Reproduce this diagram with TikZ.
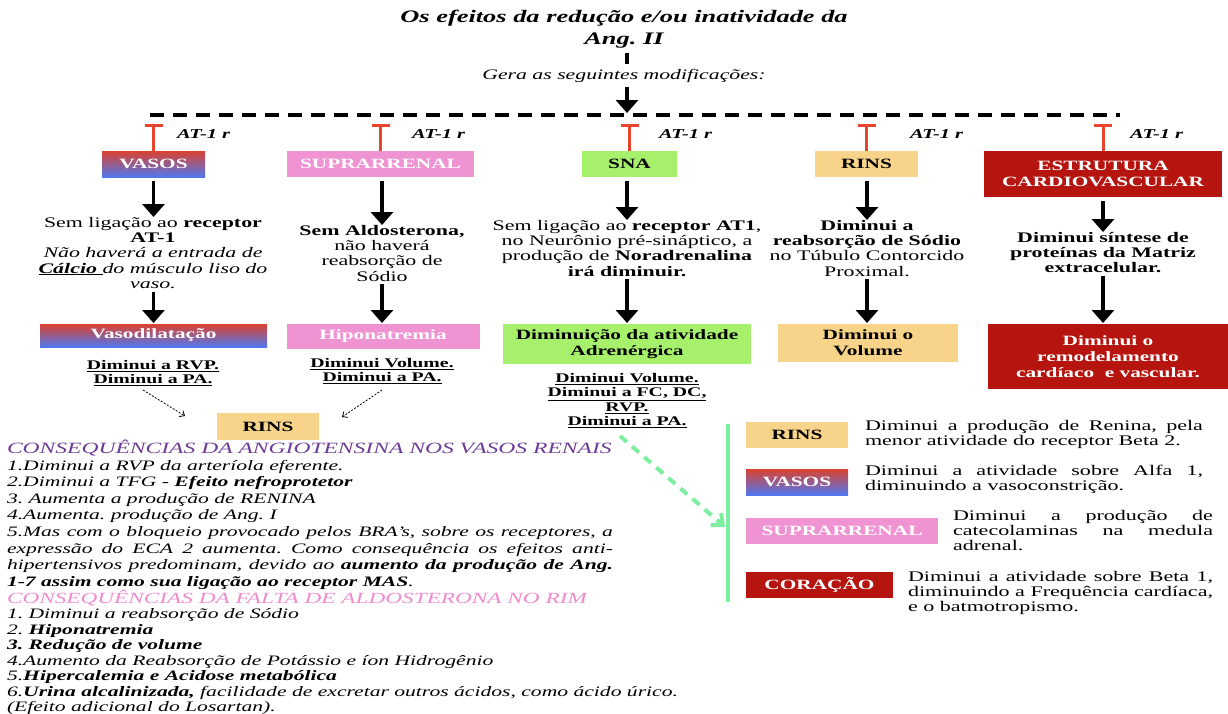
\documentclass[tikz,border=0pt]{standalone}
\usepackage{fontspec}
\setmainfont{Liberation Serif}[FakeStretch=1.5]
\usetikzlibrary{arrows.meta}
\frenchspacing

\definecolor{inhred}{HTML}{E8452C}
\definecolor{kidney}{HTML}{F8D38A}
\definecolor{adrenal}{HTML}{F093D3}
\definecolor{nerve}{HTML}{A6F06C}
\definecolor{heart}{HTML}{B6140F}
\definecolor{vtop}{HTML}{DA4230}
\definecolor{vbot}{HTML}{5078EE}
\definecolor{angio}{HTML}{6E3C96}
\definecolor{aldo}{HTML}{EE8CCF}
\definecolor{mint}{HTML}{7EEEA0}

\newcommand{\fs}[2]{\fontsize{#1}{#2}\selectfont}

\begin{document}
\begin{tikzpicture}[x=1pt, y=-1pt,
  every node/.style={inner sep=0pt, outer sep=0pt},
  organ/.style={align=center, font=\bfseries\fs{14.2}{16}},
  kidneybox/.style={organ, fill=kidney},
  adrenalbox/.style={organ, fill=adrenal, text=white},
  nervebox/.style={organ, fill=nerve},
  heartbox/.style={organ, fill=heart, text=white},
  vesselbox/.style={organ, top color=vtop, bottom color=vbot, text=white},
  fxtext/.style={align=center, anchor=north, font=\fs{14.6}{15.3}},
  outcome/.style={align=center, anchor=north, font=\bfseries\fs{13.2}{14.6}},
  atlbl/.style={anchor=west, font=\bfseries\itshape\fs{13.6}{16}},
  bigarrow/.style={line width=3.5pt, -{Triangle[width=22pt,length=13pt]}},
  inhib/.style={draw=inhred, line width=3pt, -{Bar[width=18pt]}},
  dashbar/.style={line width=4pt, dash pattern=on 14pt off 9pt},
  hint/.style={line width=0.8pt, dash pattern=on 2pt off 1.5pt, -{Straight Barb[length=4pt,width=7pt]}},
  greenlink/.style={draw=mint, line width=4pt, dash pattern=on 9pt off 7pt, -{Straight Barb[length=9pt,width=16pt]}},
  legtext/.style={anchor=north west, align=justify, font=\fs{14.7}{15.2}},
]
\path[use as bounding box, fill=white] (0,0) rectangle (1228,713);

% ---- heading ----
\coordinate (hub) at (627,113);
\coordinate (tbar) at (0,124);
\node[align=center, font=\bfseries\itshape\fs{17.6}{22}] (title) at (624,29)
  {Os efeitos da redução e/ou inatividade da\\Ang. II};
\node[font=\itshape\fs{14.5}{16}] (gera) at (624,76) {Gera as seguintes modificações:};
\draw[line width=4pt, shorten <=5pt, shorten >=5pt] (title.south -| hub) -- (gera.north -| hub);
\draw[bigarrow, shorten <=4pt] (gera.south -| hub) -- (hub);

\coordinate (dl) at (150,115);
\coordinate (dr) at (1120,115);
\draw[dashbar] (dl) -- (dr);

% ---- target organs ----
\node[vesselbox, minimum width=103pt, minimum height=26pt] (vasos) at (153.5,164) {VASOS};
\node[adrenalbox, minimum width=187pt, minimum height=26pt] (supra) at (380.5,164) {SUPRARRENAL};
\node[nervebox, minimum width=95pt, minimum height=26pt] (sna) at (629.5,164) {SNA};
\node[kidneybox, minimum width=103pt, minimum height=26pt] (rins) at (866.5,164) {RINS};
\node[heartbox, minimum width=238pt, minimum height=46pt] (estr) at (1103,174) {ESTRUTURA\\CARDIOVASCULAR};

\foreach \b in {vasos,supra,sna,rins,estr}
  \draw[inhib] (\b.north) -- (\b.north |- tbar);

\node[atlbl] (at1) at (177,134) {AT-1 r};
\node[atlbl] (at2) at (412,134) {AT-1 r};
\node[atlbl] (at3) at (659,134) {AT-1 r};
\node[atlbl] (at4) at (910,134) {AT-1 r};
\node[atlbl] (at5) at (1130,134) {AT-1 r};

% ---- first effects ----
\node[fxtext] (vtx) at (153,217) {Sem ligação ao \textbf{receptor}\\\textbf{AT-1}\\
  \textit{Não haverá a entrada de}\\\textit{\underline{\textbf{Cálcio }}do músculo liso do}\\\textit{vaso.}};
\node[fxtext] (stx) at (382,225) {\textbf{Sem Aldosterona,}\\não haverá\\reabsorção de\\Sódio};
\node[fxtext] (ntx) at (627,220) {Sem ligação ao \textbf{receptor AT1},\\no Neurônio pré-sináptico, a\\
  produção de \textbf{Noradrenalina}\\\textbf{irá diminuir.}};
\node[fxtext] (rtx) at (867,220) {\textbf{Diminui a}\\\textbf{reabsorção de Sódio}\\no Túbulo Contorcido\\Proximal.};
\node[fxtext] (etx) at (1103,232) {\textbf{Diminui síntese de}\\\textbf{proteínas da Matriz}\\\textbf{extracelular.}};

\draw[bigarrow, shorten <=4pt] (vasos.south) -- (vasos.south |- vtx.north);
\draw[bigarrow, shorten <=4pt] (supra.south -| stx.north) -- (stx.north);
\draw[bigarrow, shorten <=4pt] (sna.south -| ntx.north) -- (ntx.north);
\draw[bigarrow, shorten <=4pt] (rins.south -| rtx.north) -- (rtx.north);
\draw[bigarrow, shorten <=4pt] (estr.south) -- (etx.north);

% ---- second effects ----
\node[vesselbox, minimum width=227pt, minimum height=23pt] (vdil) at (153.5,335.5) {Vasodilatação};
\node[adrenalbox, minimum width=193pt, minimum height=25pt] (hipo) at (383,336.5) {Hiponatremia};
\node[nervebox, minimum width=248pt, minimum height=40pt] (adr) at (627,344) {Diminuição da atividade\\Adrenérgica};
\node[kidneybox, minimum width=180pt, minimum height=38pt] (vol) at (868,343) {Diminui o\\Volume};
\node[heartbox, minimum width=240pt, minimum height=65pt] (remo) at (1108,356.5) {Diminui o\\remodelamento\\cardíaco\ \ e vascular.};

\draw[bigarrow, shorten <=3pt, shorten >=1pt] (vtx.south -| vasos.south) -- (vdil.north -| vasos.south);
\draw[bigarrow, shorten <=3pt, shorten >=1pt] (stx.south) -- (hipo.north -| stx.south);
\draw[bigarrow, shorten <=3pt, shorten >=1pt] (ntx.south) -- (adr.north);
\draw[bigarrow, shorten <=3pt, shorten >=1pt] (rtx.south) -- (vol.north -| rtx.south);
\draw[bigarrow, shorten <=3pt, shorten >=1pt] (etx.south) -- (remo.north -| etx.south);

\node[outcome] (vout) at (153,360) {\underline{Diminui a RVP.}\\\underline{Diminui a PA.}};
\node[outcome] (sout) at (382,358) {\underline{Diminui Volume.}\\\underline{Diminui a PA.}};
\node[outcome] (nout) at (627,373) {\underline{Diminui Volume.}\\\underline{Diminui a FC, DC,}\\\underline{RVP.}\\\underline{Diminui a PA.}};

\node[kidneybox, minimum width=102pt, minimum height=27pt] (rins2) at (268,426.5) {RINS};
\coordinate (h1s) at (143,390);
\coordinate (h1e) at (185,416);
\coordinate (h2s) at (382,390);
\coordinate (h2e) at (342,417);
\draw[hint] (h1s) -- (h1e);
\draw[hint] (h2s) -- (h2e);

% ---- renal consequences ----
\node[anchor=north west, text width=606pt, align=justify, font=\itshape\fs{14.4}{16.6}] (angio) at (7,440) {%
  {\color{angio}\fs{15.7}{16.6}CONSEQUÊNCIAS DA ANGIOTENSINA NOS VASOS RENAIS}\\
  1.Diminui a RVP da arteríola eferente.\\
  2.Diminui a TFG - \textbf{Efeito nefroprotetor}\\
  3. Aumenta a produção de RENINA\\
  4.Aumenta. produção de Ang. I\\
  5.Mas com o bloqueio provocado pelos BRA’s, sobre os receptores, a\linebreak
  expressão do ECA 2 aumenta. Como consequência os efeitos anti-\linebreak
  hipertensivos predominam, devido ao \textbf{aumento da produção de Ang.}\linebreak
  \textbf{1-7 assim como sua ligação ao receptor MAS}.};

\node[anchor=north west, align=left, font=\itshape\fs{14.4}{15.5}] (aldo) at (7,590) {%
  {\color{aldo}\fs{15.5}{15.5}CONSEQUÊNCIAS DA FALTA DE ALDOSTERONA NO RIM}\\
  1. Diminui a reabsorção de Sódio\\
  2. \textbf{Hiponatremia}\\
  \textbf{3. Redução de volume}\\
  4.Aumento da Reabsorção de Potássio e íon Hidrogênio\\
  5.\textbf{Hipercalemia e Acidose metabólica}\\
  6.\textbf{Urina alcalinizada,} facilidade de excretar outros ácidos, como ácido úrico.\\
  (Efeito adicional do Losartan).};

% ---- sympathetic targets ----
\coordinate (gl1) at (728,424);
\coordinate (gl2) at (728,602);
\draw[mint, line width=4pt] (gl1) -- (gl2);
\coordinate (ga1) at (620,436);
\coordinate (ga2) at (725,527);
\draw[greenlink] (ga1) -- (ga2);

\node[kidneybox, minimum width=102pt, minimum height=26pt] (lrins) at (797,435) {RINS};
\node[vesselbox, minimum width=102pt, minimum height=26pt] (lvas) at (797,482) {VASOS};
\node[adrenalbox, minimum width=192pt, minimum height=26pt] (lsup) at (842,531) {SUPRARRENAL};
\node[heartbox, minimum width=147pt, minimum height=26pt] (lcor) at (819.5,585) {CORAÇÃO};

\node[legtext, text width=338pt] (lrt) at (865,420) {Diminui a produção de Renina, pela\linebreak menor atividade do receptor Beta 2.};
\node[legtext, text width=338pt] (lvt) at (865,465) {Diminui a atividade sobre Alfa 1,\linebreak diminuindo a vasoconstrição.};
\node[legtext, text width=260pt] (lst) at (953,510) {Diminui a produção de\linebreak catecolaminas na medula\linebreak adrenal.};
\node[legtext, text width=305pt] (lct) at (908,571) {Diminui a atividade sobre Beta 1,\linebreak diminuindo a Frequência cardíaca,\linebreak e o batmotropismo.};
\end{tikzpicture}
\end{document}
